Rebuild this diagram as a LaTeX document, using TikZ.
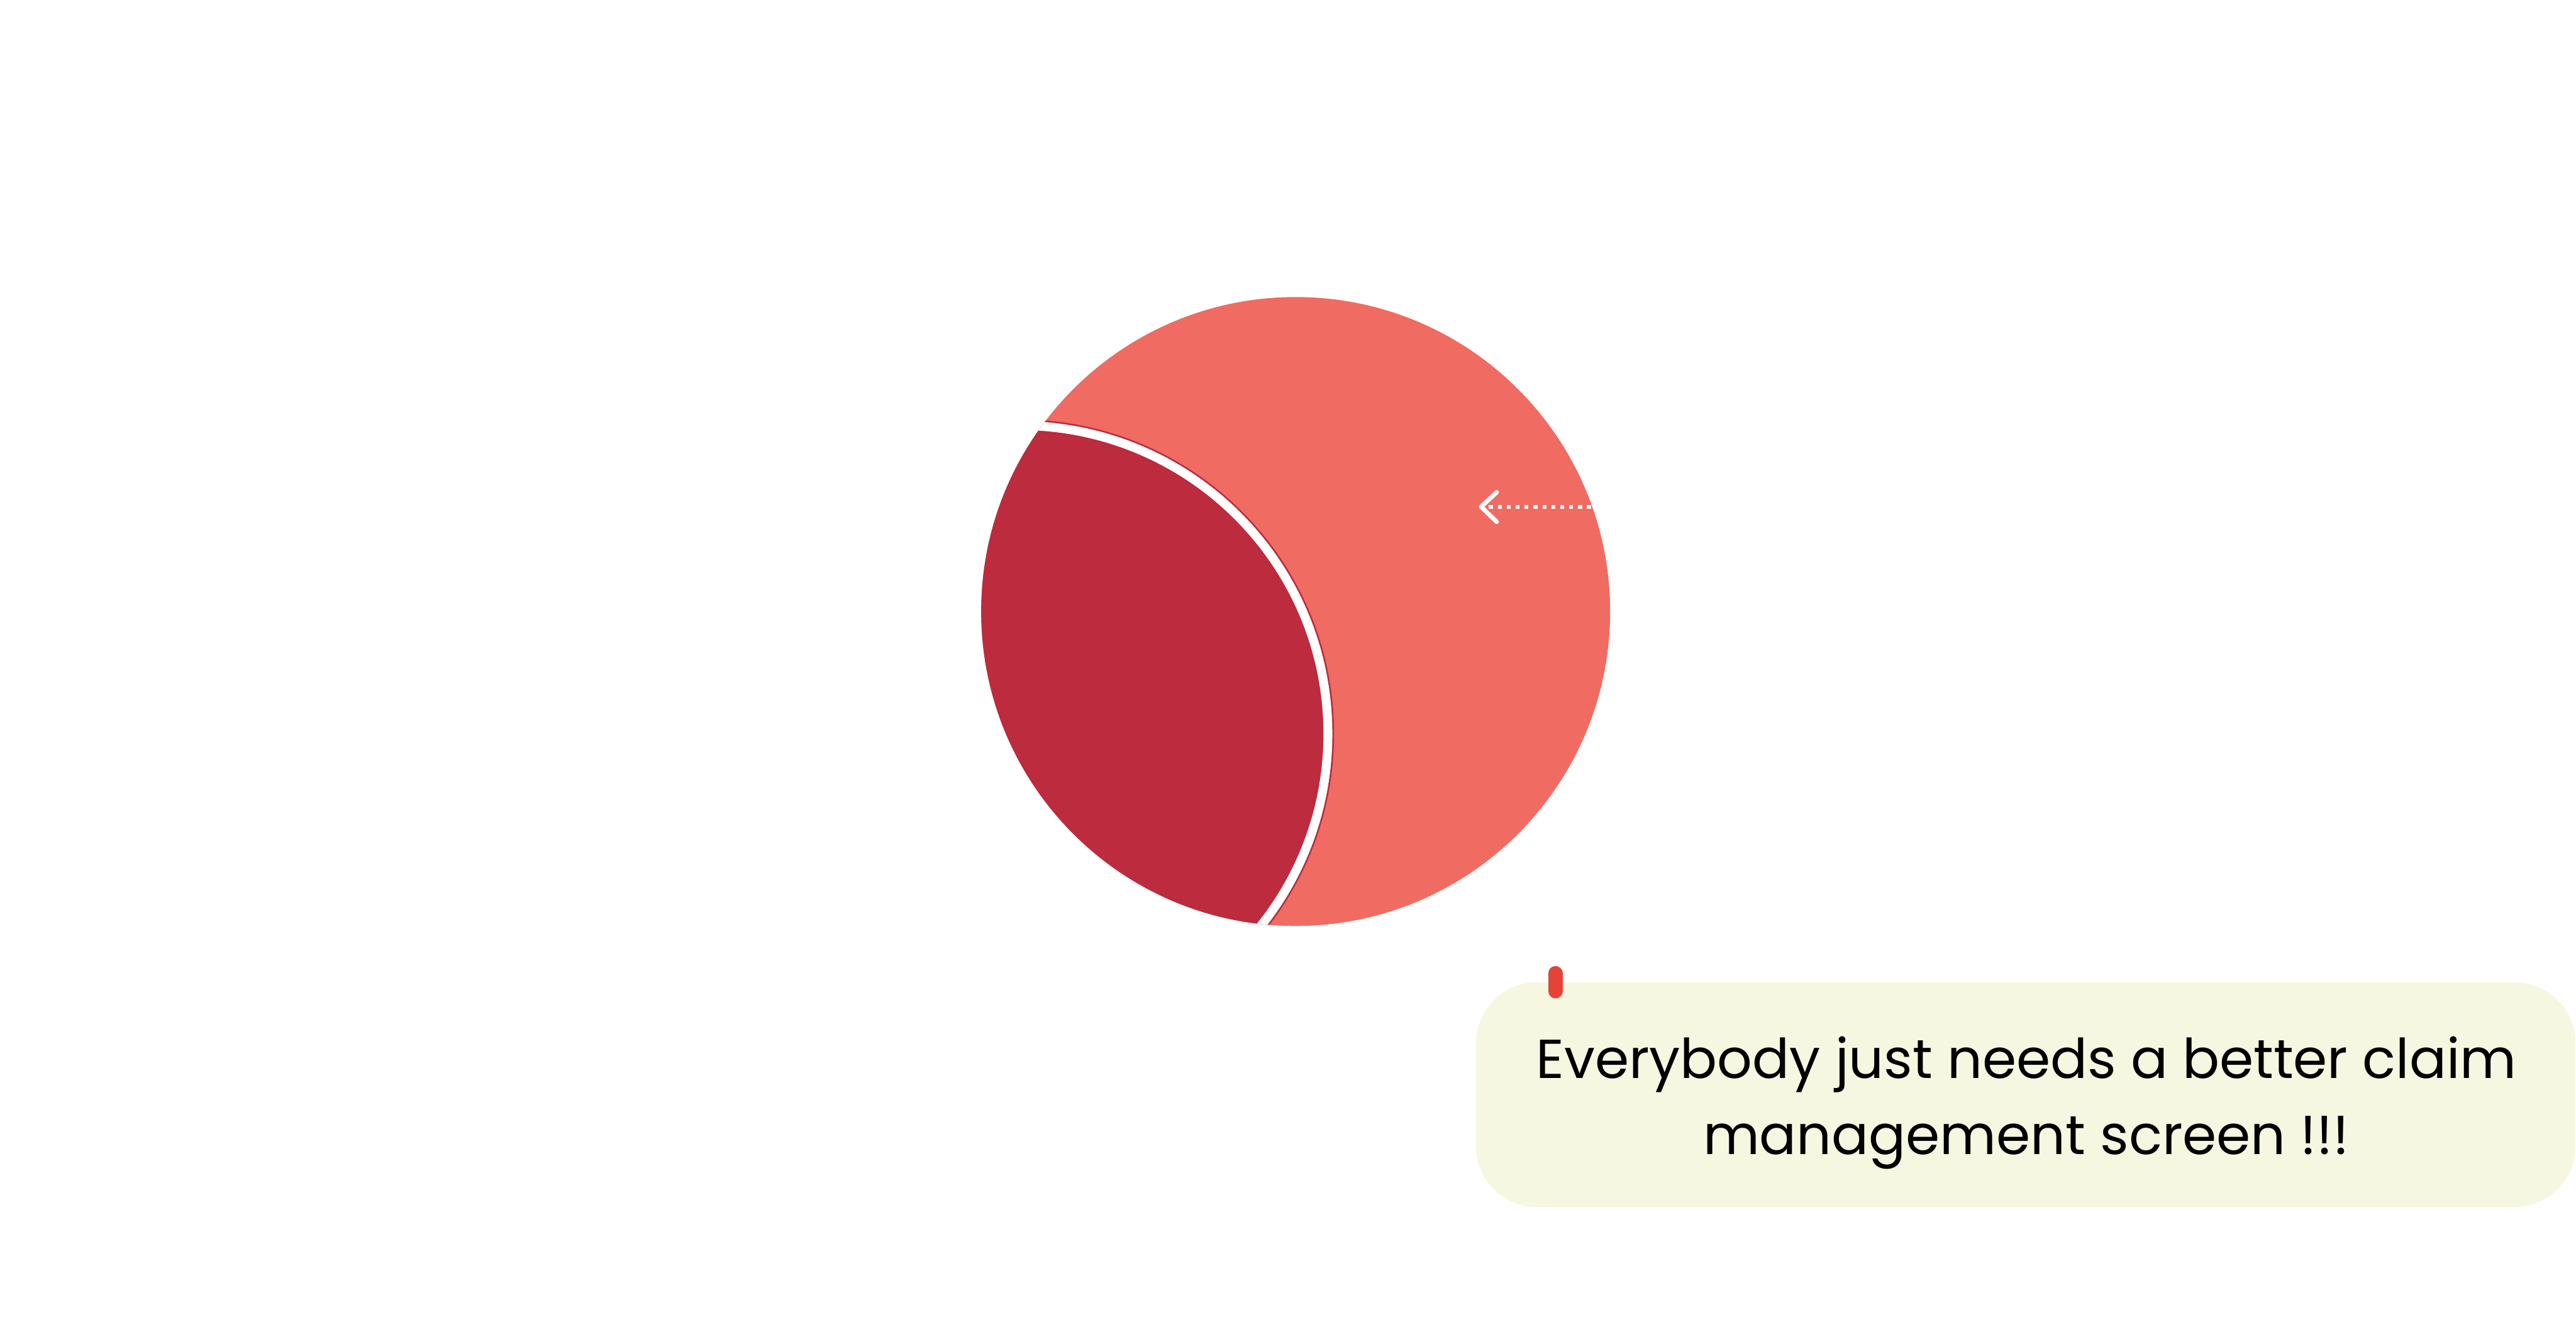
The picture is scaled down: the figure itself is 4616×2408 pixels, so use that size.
\documentclass[tikz,border=0pt]{standalone}
\usepackage{fontspec}
\setmainfont{Poppins}
\definecolor{lightred}{HTML}{F06B61}
\definecolor{darkred}{HTML}{BC2B3E}
\definecolor{markred}{HTML}{E5433A}
\definecolor{cream}{HTML}{F5F7E0}
\begin{document}
\begin{tikzpicture}[x=0.005cm,y=-0.005cm,
  bigdisc/.style={fill=lightred},
  lens/.style={fill=darkred},
  gapline/.style={draw=white,line width=0.08cm},
  dotline/.style={draw=white,line width=0.035cm,dash pattern=on 0.035cm off 0.045cm},
  chevron/.style={draw=white,line width=0.04cm,line cap=round,line join=round},
  callout/.style={fill=cream,rounded corners=0.545cm,minimum width=9.86cm,minimum height=2.015cm,inner sep=0pt},
  calltext/.style={align=center,text=black,inner sep=0pt,font=\fontsize{14.0}{19.35}\selectfont},
  tick/.style={draw=markred,line width=0.13cm,line cap=round}]
\useasboundingbox (0,0) rectangle (4616,2408);
% main circle
\coordinate (c1) at (2321.7,1095.7);
\coordinate (c2) at (1827,1315);
\fill[bigdisc] (c1) circle (2.82cm);
\begin{scope}
  \clip (c1) circle (2.82cm);
  \fill[lens] (c2) circle (2.82cm);
  \draw[gapline] (c2) circle (2.765cm);
\end{scope}
% dotted arrow
\coordinate (tip) at (2654,908);
\coordinate (tail) at (2915,908);
\draw[dotline] ([xshift=0.07cm]tip) -- (tail);
\draw[chevron] ([xshift=0.14cm,yshift=0.13cm]tip) -- (tip) -- ([xshift=0.14cm,yshift=-0.135cm]tip);
% callout
\node[callout] (note) at (3630,1961.5) {};
\node[calltext, anchor=base] (notetext) at (3631,2068) {Everybody just needs a better claim\\management screen !!!};
\coordinate (tickTop) at (2787,1744);
\coordinate (tickBot) at (2787,1776);
\draw[tick] (tickTop) -- (tickBot);
\end{tikzpicture}
\end{document}
